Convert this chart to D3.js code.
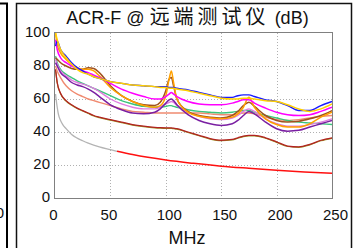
<!DOCTYPE html>
<html>
<head>
<meta charset="utf-8">
<script src="https://cdn.jsdelivr.net/npm/d3@7"></script>
<style>
  body { margin: 0; background: #fff; }
  text { font-family: 'Liberation Sans', Arial, sans-serif; fill: #111; }
</style>
</head>
<body>
<div class="canvas"></div>
<script>
// frequency points (MHz) shared by the measured pairs
const freq = [0.5, 2, 5, 10, 15, 20, 25, 30, 35, 40, 50, 60, 70, 80, 90, 95, 100, 103, 105, 107, 110,
  120, 130, 140, 150, 160, 165, 170, 175, 180, 190, 200, 210, 220, 230, 240, 250]

const darkRed = [78, 70, 63.5, 59, 56.5, 54.5, 53, 51.5, 50, 49, 47.5, 46, 44.5, 43.5, 42.8, 42.6, 42.5, 42.5, 42.5, 42.3, 42,
  40, 38, 36, 35, 35.5, 36.5, 37.5, 38, 38, 36.5, 34, 31.5, 31, 32.5, 35, 36.5]
const olive = [77.7, 69.7, 63.2, 58.7, 56.2, 54.2, 52.7, 51.2, 49.7, 48.7, 47.2, 45.7, 44.2, 43.2, 42.5, 42.3, 42.2, 42.2, 42.2, 42, 41.7,
  39.7, 37.7, 35.7, 34.7, 35.2, 36.2, 37.2, 37.7, 37.7, 36.2, 33.7, 31.2, 30.7, 32.2, 34.7, 36.2]
const salmon = [80, 77, 73, 68, 65, 63, 61.5, 60, 59, 58, 56, 54, 52.5, 52, 51.5, 51.5, 51.5, 51.5, 51.5, 51.5, 51.5,
  51.5, 51.5, 51, 50.5, 50.5, 51, 51.5, 51.5, 51, 49, 47.5, 47, 47.5, 48.5, 49.5, 50]
const green = [86, 82, 78, 75, 73, 71, 69.5, 68, 66.5, 65, 62, 59, 57, 55.5, 55, 55, 55.5, 56, 56, 55.5, 55,
  53.5, 52.5, 52, 51.5, 52, 52.5, 53, 53, 52, 50, 48.5, 47, 46, 45.5, 45, 44.5]
const violet = [84, 81, 77, 74, 71.5, 70, 69, 68, 66.5, 64.5, 60, 57, 55, 54, 54, 55, 57, 58, 58.5, 58, 56,
  52, 49.5, 48, 47.5, 48.5, 50, 52.5, 54, 52.5, 48, 45, 43.5, 43.5, 44.5, 46, 48]
const purple = [82, 80, 76, 73, 70, 68.5, 67.5, 66, 64, 61.5, 56.5, 53.5, 51.5, 51, 52, 54, 57.5, 59.5, 60, 59, 56.5,
  50.5, 47, 45, 44, 45, 47, 50, 52.5, 51, 46, 42, 40.5, 41, 43, 45, 47]
const brown = [85, 84, 82, 80, 78.5, 78, 78, 79, 78.5, 76, 68, 62, 58.5, 56.5, 56, 58, 65, 72, 73, 68, 60,
  52.5, 50, 49, 48.5, 50, 52.5, 56, 58, 55.5, 50, 47, 46, 46.5, 48, 50, 53]
const orange = [100, 93, 88, 84, 81, 79, 78, 78, 77, 74, 67, 62, 58.5, 56, 55, 56, 62, 72, 77, 70, 60,
  52, 49.5, 48.5, 48, 49, 51, 55, 61, 55, 48, 44.5, 43, 43, 45, 49, 52]
const magenta = [96, 90, 85, 82, 80, 78.5, 77, 76, 74.5, 73, 69.5, 66, 63.5, 61.5, 60, 60, 61.5, 63, 64, 63, 61.5,
  58.5, 57, 56.5, 56.5, 57.5, 58.5, 59.5, 59.5, 57.5, 54.5, 52, 50.5, 50, 50.5, 52.5, 55]
const blue = [92, 95, 90, 86, 82, 79, 77, 75, 73.5, 72.5, 70.5, 69.5, 68.5, 68, 67.5, 67.5, 67.5, 67, 67, 67, 66.5,
  65.5, 64, 62.5, 61, 61, 62, 62.5, 62.5, 61.5, 59.5, 58.5, 56, 53, 53, 56, 58.5]
const gold = [100, 96, 90, 85, 81, 78, 76, 75, 73.5, 72.5, 70.5, 69.5, 68.5, 68, 67.5, 67, 67, 66.5, 66.5, 66.5, 66,
  65, 63.5, 62, 60.5, 60, 60, 60.5, 60.5, 60, 59, 58.5, 56.5, 54, 52.5, 54, 57]

// limit line: grey below ~55 MHz, red above
const limitFreqLow = [0.5, 1, 2, 3, 5, 7, 10, 15, 20, 25, 30, 40, 50, 56]
const limitLow = [63, 60, 55, 51, 47, 44.5, 42, 38.5, 36.3, 34.7, 33.3, 31, 29.3, 28.3]
const limitFreqHigh = [56, 70, 100, 125, 150, 175, 200, 225, 250]
const limitHigh = [28.3, 26.3, 23, 21, 19.3, 18, 16.8, 15.8, 15]

const xTicks = [0, 50, 100, 150, 200, 250]
const yTicks = [0, 20, 40, 60, 80, 100]

const series = [
  { name: 'olive', values: olive, color: '#9a9424', width: 1.2 },
  { name: 'darkRed', values: darkRed, color: '#b22222', width: 1.3 },
  { name: 'salmon', values: salmon, color: '#f08a70', width: 1.4 },
  { name: 'green', values: green, color: '#3cc47c', width: 1.4 },
  { name: 'violet', values: violet, color: '#e07ce0', width: 1.4 },
  { name: 'purple', values: purple, color: '#7a1fa2', width: 1.5 },
  { name: 'brown', values: brown, color: '#a0521e', width: 1.5 },
  { name: 'orange', values: orange, color: '#ffa000', width: 1.5 },
  { name: 'magenta', values: magenta, color: '#ff00ff', width: 1.5 },
  { name: 'blue', values: blue, color: '#1a1aff', width: 1.4 },
  { name: 'gold', values: gold, color: '#ffd000', width: 1.5 },
]

const svg = d3
  .select('.canvas')
  .append('svg')
  .attr('width', 358)
  .attr('height', 248)

const plot = { left: 55, right: 332, top: 33, bottom: 198 }

const x = d3.scaleLinear().domain([0, 250]).range([plot.left, plot.right])
const y = d3.scaleLinear().domain([0, 100]).range([plot.bottom, plot.top])

// bits of the neighbouring panel on the left
svg.append('path')
  .attr('d', 'M0,3.5 H7 V248')
  .attr('fill', 'none')
  .attr('stroke', '#000')
  .attr('stroke-width', 2)
svg.append('text')
  .attr('x', 4)
  .attr('y', 218)
  .attr('text-anchor', 'end')
  .style('font-size', '15px')
  .text('250')

// panel frame
svg.append('path')
  .attr('d', 'M16.5,250 V3.5 H351.5 V250')
  .attr('fill', 'none')
  .attr('stroke', '#111')
  .attr('stroke-width', 1.5)

// grid
const grid = svg.append('g')
grid.selectAll('.gx')
  .data(xTicks.slice(1, -1))
  .enter()
  .append('line')
  .attr('x1', (d) => Math.round(x(d)) + 0.5)
  .attr('x2', (d) => Math.round(x(d)) + 0.5)
  .attr('y1', plot.top)
  .attr('y2', plot.bottom)
grid.selectAll('.gy')
  .data(yTicks.slice(1, -1))
  .enter()
  .append('line')
  .attr('x1', plot.left)
  .attr('x2', plot.right)
  .attr('y1', (d) => Math.round(y(d)) + 0.5)
  .attr('y2', (d) => Math.round(y(d)) + 0.5)
grid.selectAll('line')
  .attr('stroke', '#b0b0b0')
  .attr('stroke-width', 1)
  .attr('stroke-dasharray', '1,2')

// curves, clipped to the plot box
svg.append('clipPath')
  .attr('id', 'clip')
  .append('rect')
  .attr('x', plot.left)
  .attr('y', plot.top)
  .attr('width', plot.right - plot.left)
  .attr('height', plot.bottom - plot.top)

const lines = svg.append('g').attr('clip-path', 'url(#clip)')

const line = d3
  .line()
  .x((d) => x(d[0]))
  .y((d) => y(d[1]))
  .curve(d3.curveMonotoneX)

lines.append('path')
  .attr('d', line(d3.zip(limitFreqLow, limitLow)))
  .attr('fill', 'none')
  .attr('stroke', '#b4b4b4')
  .attr('stroke-width', 1.3)
lines.append('path')
  .attr('d', line(d3.zip(limitFreqHigh, limitHigh)))
  .attr('fill', 'none')
  .attr('stroke', '#ff1010')
  .attr('stroke-width', 1.5)

lines.selectAll('.pair')
  .data(series)
  .enter()
  .append('path')
  .attr('class', 'pair')
  .attr('d', (s) => line(d3.zip(freq, s.values)))
  .attr('fill', 'none')
  .attr('stroke', (s) => s.color)
  .attr('stroke-width', (s) => s.width)

// plot box
svg.append('rect')
  .attr('x', plot.left - 0.5)
  .attr('y', plot.top - 0.5)
  .attr('width', plot.right - plot.left + 1)
  .attr('height', plot.bottom - plot.top + 1)
  .attr('fill', 'none')
  .attr('stroke', '#808080')
  .attr('stroke-width', 1)

// tick labels
svg.selectAll('.ylab')
  .data(yTicks)
  .enter()
  .append('text')
  .attr('x', plot.left - 5)
  .attr('y', (d) => y(d) + 4)
  .attr('text-anchor', 'end')
  .style('font-size', '15px')
  .text((d) => d)

svg.selectAll('.xlab')
  .data(xTicks)
  .enter()
  .append('text')
  .attr('x', (d) => x(d) + (d >= 100 ? 3.5 : -1.5))
  .attr('y', 220)
  .attr('text-anchor', 'middle')
  .style('font-size', '15px')
  .text((d) => d)

svg.append('text')
  .attr('x', 187)
  .attr('y', 243.5)
  .attr('text-anchor', 'middle')
  .style('font-size', '18px')
  .text('MHz')

// title, CJK part set a bit larger like the original
const title = svg.append('text')
  .attr('x', 187.5)
  .attr('y', 23.5)
  .attr('text-anchor', 'middle')
  .style('font-size', '18px')
title.append('tspan').text('ACR-F @ ')
title.append('tspan')
  .style('font-family', "'Noto Sans CJK SC', sans-serif")
  .style('font-size', '20px')
  .style('letter-spacing', '4px')
  .text('远端测试仪')
title.append('tspan').text(' (dB)')
</script>
</body>
</html>
